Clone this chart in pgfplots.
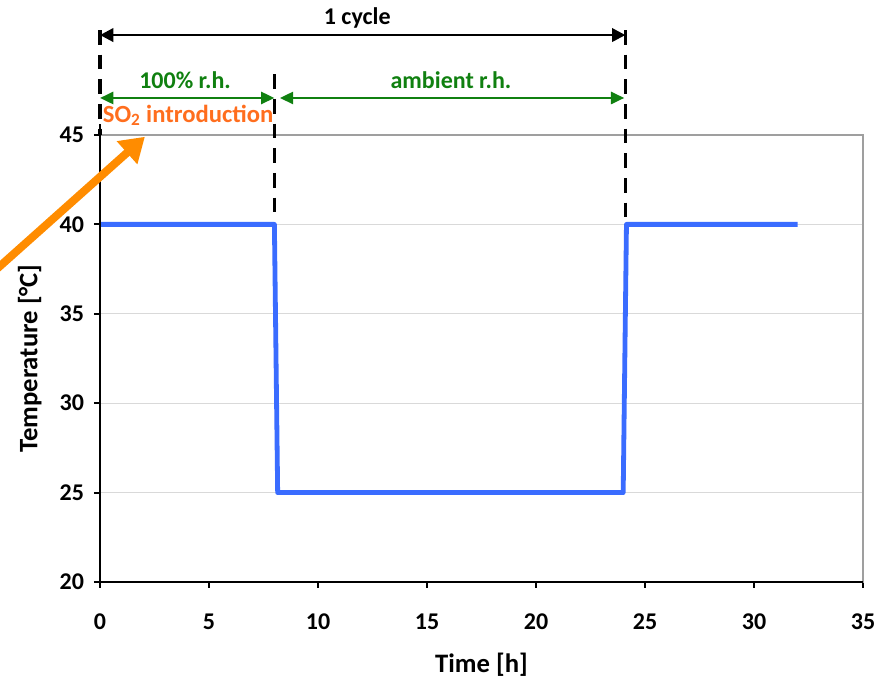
\documentclass[border=0pt]{standalone}
\usepackage{fontspec}
\setmainfont{Carlito}
\usepackage{pgfplots}
\pgfplotsset{compat=1.18}
\usetikzlibrary{arrows.meta}
\definecolor{lineblue}{RGB}{58,108,255}
\definecolor{anngreen}{RGB}{16,128,16}
\definecolor{annorange}{RGB}{255,110,30}
\definecolor{arrorange}{RGB}{255,140,0}
\begin{document}
\begin{tikzpicture}
\useasboundingbox (-75pt,-73.5pt) rectangle (587.25pt,436.5pt);
\begin{axis}[at={(0,0)}, anchor=south west, scale only axis,
  width=572.25pt, height=335.25pt,
  xmin=0, xmax=35, ymin=20, ymax=45,
  xtick={0,5,...,35}, ytick={20,25,...,45},
  ymajorgrids, grid style={gray!30, line width=0.6pt},
  axis line style={gray!75, line width=1pt},
  tick align=outside, xtick pos=left, ytick pos=left,
  major tick length=4.5pt,
  tick style={black, line width=1.5pt},
  /pgf/number format/assume math mode=true,
  tick label style={font=\fontsize{18}{20}\selectfont\bfseries},
  xticklabel style={yshift=-16pt},
  yticklabel style={xshift=-4pt},
  xlabel={Time [h]}, ylabel={Temperature [°C]},
  label style={font=\fontsize{20}{22}\selectfont\bfseries},
  xlabel style={at={(axis description cs:0.5,-0.186)}, anchor=center},
  ylabel style={at={(axis description cs:-0.092,0.5)}, anchor=center, rotate=0},
  clip=false]
% dashed markers
\draw[black, line width=2.8pt, dash pattern=on 11pt off 7.5pt] (axis cs:0,50.87) -- (axis cs:0,45);
\draw[black, line width=2.8pt, dash pattern=on 11pt off 7.5pt] (axis cs:8,48.4) -- (axis cs:8,40.2);
\draw[black, line width=2.8pt, dash pattern=on 11pt off 7.5pt] (axis cs:24.1,50.87) -- (axis cs:24.1,40.2);
\addplot[lineblue, line width=3.6pt, line join=round] coordinates {
 (0,40) (8,40) (8.15,25) (24,25) (24.15,40) (32,40)};
% axis lines
\draw[black, line width=1.8pt] (axis cs:0,45.6) -- (axis cs:0,20) -- (axis cs:35,20);
% 1 cycle
\draw[black, line width=2pt, {Triangle[length=10pt,width=10pt]}-{Triangle[length=10pt,width=10pt]}] (axis cs:0,50.59) -- (axis cs:24.1,50.59);
\node[font=\fontsize{18}{20}\selectfont\bfseries, anchor=center] at (axis cs:11.8,51.55) {1 cycle};
% green arrows
\draw[anngreen, line width=2pt, {Triangle[length=10pt,width=9pt]}-{Triangle[length=10pt,width=9pt]}] (axis cs:0,47.07) -- (axis cs:8,47.07);
\draw[anngreen, line width=2pt, {Triangle[length=10pt,width=9pt]}-{Triangle[length=10pt,width=9pt]}] (axis cs:8.25,47.07) -- (axis cs:24.05,47.07);
\node[anngreen, font=\fontsize{18}{20}\selectfont\bfseries] at (axis cs:3.9,48.05) {100\% r.h.};
\node[anngreen, font=\fontsize{18}{20}\selectfont\bfseries] at (axis cs:16.1,48.05) {ambient r.h.};
% SO2 introduction
\node[annorange, font=\fontsize{18.5}{20}\selectfont\bfseries, anchor=west, inner sep=0pt] at (axis cs:0.12,46.1) {SO\textsubscript{2} introduction};
\draw[arrorange, line width=6pt, -{Triangle[length=18pt,width=22pt]}] (axis cs:-5.2,37.0) -- (axis cs:2.06,44.9);
\end{axis}
\end{tikzpicture}
\end{document}
